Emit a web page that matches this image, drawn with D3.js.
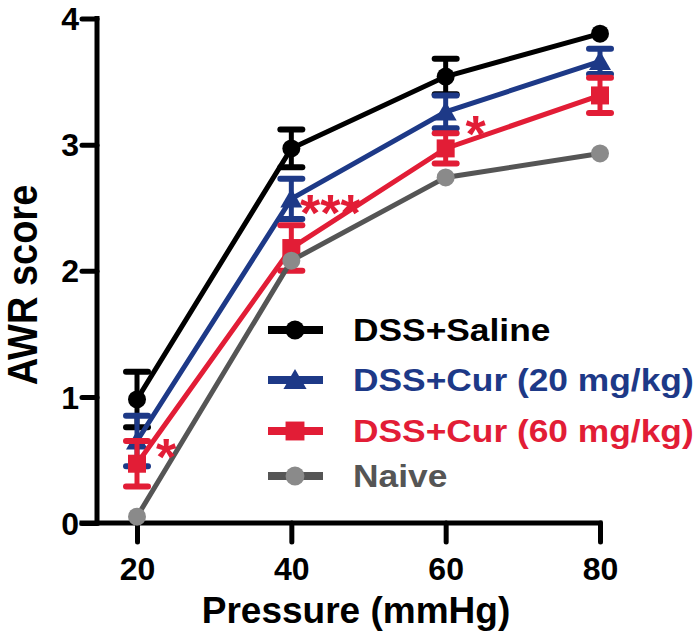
<!DOCTYPE html>
<html>
<head>
<meta charset="utf-8">
<script src="https://cdn.jsdelivr.net/npm/d3@7"></script>
<style>
  html, body { margin: 0; padding: 0; background: #ffffff; }
  svg { display: block; }
  text { font-family: "Liberation Sans", Arial, Helvetica, sans-serif; font-weight: bold; }
</style>
</head>
<body>
<svg id="chart" width="700" height="634"></svg>
<script>
// ---- data ----
const pressures = [20, 40, 60, 80];
const xTicks = [20, 40, 60, 80];
const yTicks = [0, 1, 2, 3, 4];
const seriesNames = ["DSS+Saline", "DSS+Cur (20 mg/kg)", "DSS+Cur (60 mg/kg)", "Naive"];
const salineMean = [0.98, 2.97, 3.54, 3.88];
const salineSem  = [0.22, 0.15, 0.14, 0];
const cur20Mean  = [0.65, 2.57, 3.26, 3.66];
const cur20Sem   = [0.20, 0.16, 0.13, 0.10];
const cur60Mean  = [0.47, 2.18, 2.97, 3.39];
const cur60Sem   = [0.18, 0.18, 0.12, 0.14];
const naiveMean  = [0.05, 2.08, 2.74, 2.93];
const naiveSem   = [0, 0, 0, 0];
// significance marks: pressure, label, score level of the mark
const sigPressures = [20, 40, 60];
const sigLabels = ["*", "***", "*"];
const sigValues = [0.61, 2.55, 3.17];

const xLabel = "Pressure (mmHg)";
const yLabel = "AWR score";

// ---- styles ----
const series = [
  { name: seriesNames[0], mean: salineMean, sem: salineSem, line: "#000000", fill: "#000000", text: "#000000", shape: "circle" },
  { name: seriesNames[1], mean: cur20Mean, sem: cur20Sem, line: "#1d3987", fill: "#1d3987", text: "#1d3987", shape: "triangle" },
  { name: seriesNames[2], mean: cur60Mean, sem: cur60Sem, line: "#e21d36", fill: "#e21d36", text: "#e21d36", shape: "square" },
  { name: seriesNames[3], mean: naiveMean, sem: naiveSem, line: "#555555", fill: "#8a8a8a", text: "#555555", shape: "circle" }
];

const svg = d3.select("#chart");
const x = d3.scaleLinear().domain([20, 80]).range([137, 600]);
const y = d3.scaleLinear().domain([0, 4]).range([523, 18.5]);

// ---- axes ----
const yAxis = d3.axisLeft(y).tickValues(yTicks).tickSize(15).tickSizeOuter(0).tickPadding(3).tickFormat(d3.format("d"));
const gy = svg.append("g").attr("transform", "translate(97,0)").call(yAxis);
gy.select(".domain").remove();
gy.selectAll(".tick line").attr("stroke", "#000").attr("stroke-width", 5).attr("stroke-linecap", "round");
gy.selectAll(".tick text").attr("font-size", 32).attr("fill", "#000").attr("dy", "0.35em")
  .attr("font-family", "Liberation Sans, Arial, sans-serif").attr("font-weight", "bold");
svg.append("line").attr("x1", 97).attr("x2", 97).attr("y1", y(4)).attr("y2", y(0))
  .attr("stroke", "#000").attr("stroke-width", 5).attr("stroke-linecap", "square");

const xAxis = d3.axisBottom(x).tickValues(xTicks).tickSize(19).tickSizeOuter(0).tickPadding(15).tickFormat(d3.format("d"));
const gx = svg.append("g").attr("transform", "translate(0,523)").call(xAxis);
gx.select(".domain").remove();
gx.selectAll(".tick line").attr("stroke", "#000").attr("stroke-width", 5).attr("stroke-linecap", "round");
gx.selectAll(".tick text").attr("font-size", 32).attr("fill", "#000")
  .attr("font-family", "Liberation Sans, Arial, sans-serif").attr("font-weight", "bold");
svg.append("line").attr("x1", 82).attr("x2", x(80)).attr("y1", 523).attr("y2", 523)
  .attr("stroke", "#000").attr("stroke-width", 5).attr("stroke-linecap", "square");

// axis titles
svg.append("text").attr("transform", "translate(37,285) rotate(-90) scale(1,1.1)")
  .attr("text-anchor", "middle").attr("font-size", 38).attr("fill", "#000").text(yLabel);
svg.append("text").attr("x", 356).attr("y", 623)
  .attr("text-anchor", "middle").attr("font-size", 37).attr("fill", "#000").text(xLabel);

// ---- markers ----
function drawMarker(g, shape, cx, cy, fill, scale) {
  const s = scale || 1;
  if (shape === "circle") {
    g.append("circle").attr("cx", cx).attr("cy", cy).attr("r", 9 * s).attr("fill", fill);
  } else if (shape === "triangle") {
    const w = 11 * s, h = 19 * s;
    g.append("path").attr("d", `M${cx},${cy - h * 0.55} L${cx + w},${cy + h * 0.45} L${cx - w},${cy + h * 0.45} Z`).attr("fill", fill);
  } else {
    const a = 9 * s;
    g.append("rect").attr("x", cx - a).attr("y", cy - a).attr("width", 2 * a).attr("height", 2 * a).attr("fill", fill);
  }
}

// ---- series ----
const lineGen = d3.line().x(d => x(d[0])).y(d => y(d[1]));
series.forEach(s => {
  const g = svg.append("g");
  // error bars
  pressures.forEach((p, i) => {
    if (s.sem[i] > 0) {
      const cx = x(p), top = y(s.mean[i] + s.sem[i]), bot = y(s.mean[i] - s.sem[i]);
      g.append("line").attr("x1", cx).attr("x2", cx).attr("y1", top).attr("y2", bot)
        .attr("stroke", s.line).attr("stroke-width", 5);
      [top, bot].forEach(yy => {
        g.append("line").attr("x1", cx - 11).attr("x2", cx + 11).attr("y1", yy).attr("y2", yy)
          .attr("stroke", s.line).attr("stroke-width", 6).attr("stroke-linecap", "round");
      });
    }
  });
  g.append("path").datum(pressures.map((p, i) => [p, s.mean[i]]))
    .attr("d", lineGen).attr("fill", "none").attr("stroke", s.line).attr("stroke-width", 5);
  pressures.forEach((p, i) => drawMarker(g, s.shape, x(p), y(s.mean[i]), s.fill));
});

// ---- significance ----
const sigOffsets = [29, 39, 30];
const sigFont = 52;
sigPressures.forEach((p, i) => {
  svg.append("text").attr("x", x(p) + sigOffsets[i])
    .attr("y", y(sigValues[i]) + sigFont * 0.56)
    .attr("text-anchor", "middle").attr("font-size", sigFont).attr("fill", "#e21d36")
    .text(sigLabels[i]);
});

// ---- legend ----
const legendRows = [330, 380, 431, 476];
series.forEach((s, i) => {
  const ly = legendRows[i];
  const g = svg.append("g");
  g.append("line").attr("x1", 268).attr("x2", 323).attr("y1", ly).attr("y2", ly)
    .attr("stroke", s.line).attr("stroke-width", 8);
  drawMarker(g, s.shape, 295, ly, s.fill, 1.05);
  g.append("text").attr("transform", `translate(353,${ly + 11}) scale(1.14,1)`)
    .attr("font-size", 31).attr("fill", s.text).text(s.name);
});
</script>
</body>
</html>
